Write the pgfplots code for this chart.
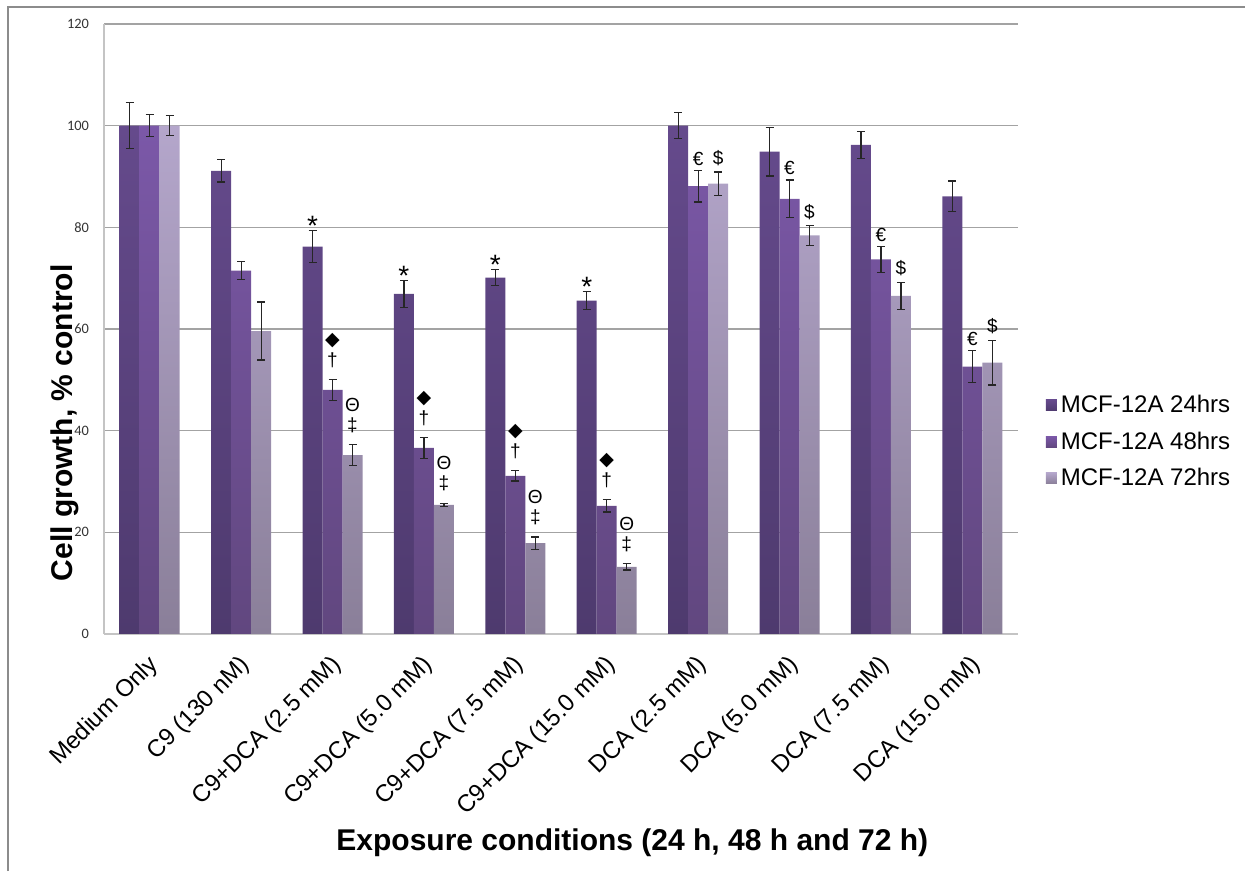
\documentclass[border=0pt]{standalone}
\usepackage{pgfplots}
\pgfplotsset{compat=1.18}
\usepackage{pgfplotstable}
\usepackage{fontspec}
\setmainfont{Liberation Sans}
\newfontfamily\djv{DejaVu Sans}
\newfontfamily\carl{Carlito}

\definecolor{c1t}{HTML}{654A8C}
\definecolor{c1b}{HTML}{4E3A6E}
\definecolor{c2t}{HTML}{7B58A8}
\definecolor{c2b}{HTML}{61477F}
\definecolor{c3t}{HTML}{B4A6CB}
\definecolor{c3b}{HTML}{8A7F99}
\definecolor{gridc}{HTML}{A3A3A3}
\definecolor{axc}{HTML}{C4C4C4}
\definecolor{framec}{HTML}{8C8C8C}

\pgfplotstableread{
x y e
0 100 4.5
1 91.1 2.2
2 76.2 3.1
3 66.9 2.6
4 70.1 1.6
5 65.6 1.8
6 100 2.6
7 94.9 4.8
8 96.2 2.6
9 86.1 3.0
}\tA
\pgfplotstableread{
x y e
0 100 2.2
1 71.5 1.8
2 48.0 2.0
3 36.6 2.0
4 31.1 1.0
5 25.2 1.2
6 88.1 3.1
7 85.6 3.7
8 73.7 2.6
9 52.6 3.1
}\tB
\pgfplotstableread{
x y e
0 100 2.0
1 59.6 5.7
2 35.2 2.0
3 25.4 0.3
4 17.9 1.2
5 13.2 0.6
6 88.6 2.3
7 78.4 2.0
8 66.5 2.7
9 53.4 4.4
}\tC

\tikzset{sym/.style={inner sep=0pt, font=\fontsize{9.5}{9.5}\selectfont, text=black}}
\newcommand\mstar[2]{\node[sym, font=\fontsize{14}{14}\selectfont] at ([xshift=-10pt,yshift=2.3pt]axis cs:#1,#2) {*};}
\newcommand\mdag[2]{\node[sym] at ([yshift=9.8pt]axis cs:#1,#2) {†};\node[sym] at ([yshift=19.8pt]axis cs:#1,#2) {\djv ◆};}
\newcommand\mddag[2]{\node[sym] at ([xshift=10pt,yshift=10pt]axis cs:#1,#2) {‡};\node[sym] at ([xshift=10pt,yshift=20pt]axis cs:#1,#2) {Θ};}
\newcommand\meur[2]{\node[sym] at ([yshift=5.8pt]axis cs:#1,#2) {€};}
\newcommand\mdol[2]{\node[sym] at ([xshift=10pt,yshift=6.8pt]axis cs:#1,#2) {\$};}

\begin{document}
\begin{tikzpicture}
\path[use as bounding box] (0,0) rectangle (622.5pt,435.5pt);
\draw[framec, line width=0.8pt] (4pt,0) -- (4pt,432pt) -- (622.5pt,432pt);
\begin{axis}[
  at={(52pt,118.5pt)}, anchor=south west,
  scale only axis, width=457pt, height=305pt,
  xmin=-0.5, xmax=9.5, ymin=0, ymax=120,
  ytick={0,20,...,120},
  xtick={0,...,9},
  xticklabels={Medium Only, C9 (130 nM), C9+DCA (2.5 mM), C9+DCA (5.0 mM), C9+DCA (7.5 mM), C9+DCA (15.0 mM), DCA (2.5 mM), DCA (5.0 mM), DCA (7.5 mM), DCA (15.0 mM)},
  x tick label style={xshift=-1.5pt, yshift=-9.5pt, rotate=45, anchor=north east, inner sep=0pt, font=\fontsize{12}{12}\selectfont},
  /pgf/number format/assume math mode=true,
  y tick label style={font=\carl\fontsize{7.2}{8}\selectfont, text=black!80, xshift=-4pt},
  axis x line*=bottom, axis y line*=left,
  axis line style={draw=axc, line width=0.9pt},
  ymajorgrids, grid style={draw=gridc, line width=0.6pt},
  major tick length=0pt,
  tick style={draw=none},
  xlabel={\bfseries\fontsize{15}{16}\selectfont Exposure conditions (24 h, 48 h and 72 h)},
  xlabel style={at={(axis description cs:0.578,0)}, anchor=center, yshift=-104.5pt},
  ylabel={\bfseries\fontsize{15}{16}\selectfont Cell growth, \% control},
  ylabel style={at={(axis description cs:-0.043,0.346)}, anchor=center},
  legend style={at={(1.03,0.315)}, anchor=west, draw=none, fill=none, font=\fontsize{12}{12}\selectfont, row sep=4pt, inner sep=0pt, cells={anchor=west}},
  legend image code/.code={\fill[#1] (0pt,-2.75pt) rectangle (5.5pt,2.75pt);},
  clip=false,
]
\addplot[ybar, bar width=10pt, bar shift=-10pt, draw=none, top color=c1t, bottom color=c1b] table[x=x,y=y] {\tA};
\addlegendentry{MCF-12A 24hrs}
\addplot[ybar, bar width=10pt, bar shift=0pt, draw=none, top color=c2t, bottom color=c2b] table[x=x,y=y] {\tB};
\addlegendentry{MCF-12A 48hrs}
\addplot[ybar, bar width=10pt, bar shift=10pt, draw=none, top color=c3t, bottom color=c3b] table[x=x,y=y] {\tC};
\addlegendentry{MCF-12A 72hrs}

% error bars (at the bar centres: 10pt = 0.218818 axis units)
\pgfplotsset{errst/.style={draw=none, mark=none, forget plot,
  error bars/y dir=both, error bars/y explicit,
  error bars/error bar style={draw=black!85, line width=0.6pt},
  error bars/error mark options={rotate=90, mark size=2pt, draw=black!85, line width=0.6pt}}}
\addplot[errst] table[x expr=\thisrow{x}-0.218818, y=y, y error=e] {\tA};
\addplot[errst] table[x=x, y=y, y error=e] {\tB};
\addplot[errst] table[x expr=\thisrow{x}+0.218818, y=y, y error=e] {\tC};

\mstar{2}{79.3}\mstar{3}{69.5}\mstar{4}{71.7}\mstar{5}{67.4}
\mdag{2}{50.0}\mdag{3}{38.6}\mdag{4}{32.1}\mdag{5}{26.4}
\mddag{2}{37.2}\mddag{3}{25.7}\mddag{4}{19.1}\mddag{5}{13.8}
\meur{6}{91.2}\meur{7}{89.3}\meur{8}{76.3}\meur{9}{55.7}
\mdol{6}{90.9}\mdol{7}{80.4}\mdol{8}{69.2}\mdol{9}{57.8}
\end{axis}
\end{tikzpicture}
\end{document}
